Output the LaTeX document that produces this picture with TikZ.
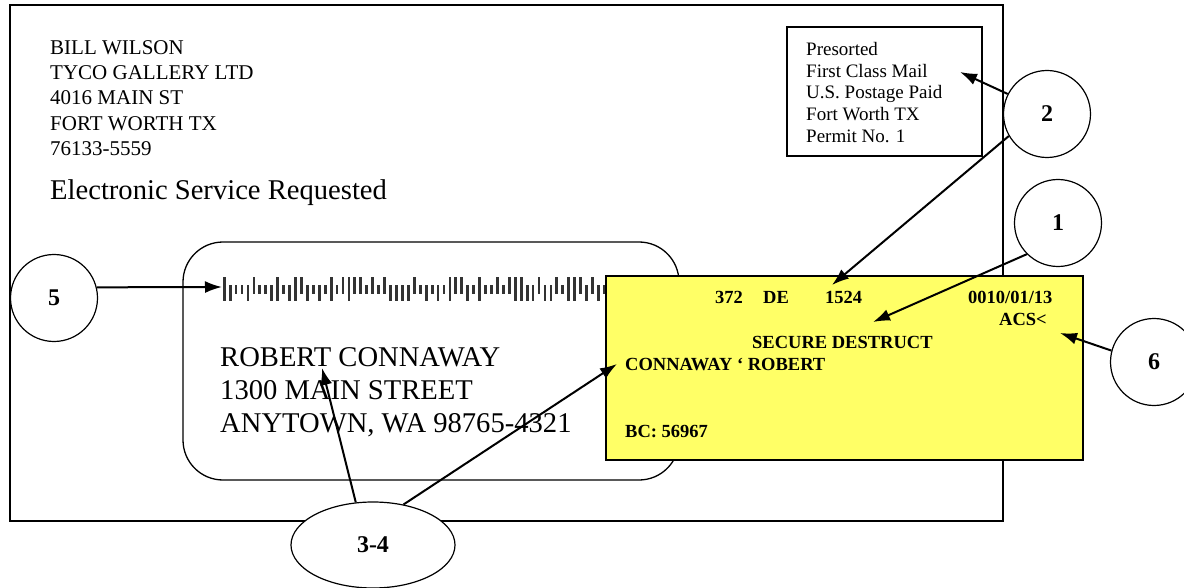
\documentclass[tikz,border=0pt]{standalone}
\usepackage{fontspec}
\setmainfont{Liberation Serif}
\usetikzlibrary{shapes.geometric, arrows.meta}
\definecolor{acsyellow}{HTML}{FFFF66}
\definecolor{barcinza}{HTML}{333333}

\begin{document}
\begin{tikzpicture}[x=1pt, y=-1pt, >={Latex[length=17pt, width=12pt]},
    callout/.style={draw, circle, fill=white, line width=1.2pt, minimum size=87pt, inner sep=0pt, font=\fontsize{24}{24}\selectfont\bfseries},
    seta/.style={->, line width=2pt},
    acs/.style={inner sep=0pt, anchor=base west, font=\fontsize{18.5}{18.5}\selectfont\bfseries}]
\clip (0,0) rectangle (1184,588);
% Envelope
\draw[line width=1.3pt] (10,5) rectangle (1003,521);
% Return address
\node[anchor=north west, inner sep=0pt, align=left, font=\fontsize{21}{25.3}\selectfont] (retaddr) at (50,40)
  {BILL WILSON\\TYCO GALLERY LTD\\4016 MAIN ST\\FORT WORTH TX\\76133-5559};
\node[anchor=base west, inner sep=0pt, font=\fontsize{28.6}{33}\selectfont] (esr) at (50,200) {Electronic Service Requested};
% Indicia
\draw[line width=1.3pt] (787,27) rectangle (982,156);
\node[anchor=north west, inner sep=0pt, align=left, font=\fontsize{19}{21.8}\selectfont] (indicia) at (806,42)
  {Presorted\\First Class Mail\\U.S. Postage Paid\\Fort Worth TX\\Permit No. 1};
% Address window
\draw[line width=1.3pt, rounded corners=40pt] (183,242) rectangle (679,480);
\foreach \c [count=\i from 0] in {3,2,0,0,2,1,0,0,2,3,0,2,3,1,2,0,2,0,3,0,1,3,
    1,1,0,1,0,1,2,2,2,2,1,0,2,0,2,0,3,1,1,2,0,3,
    0,0,1,0,1,3,3,2,2,1,2,2,1,0,3,3,1,2,1,2,0} {
  \pgfmathsetmacro\bartop{285-8*mod(\c,2)}
  \pgfmathsetmacro\barbot{294+7*floor(\c/2)}
  \fill[barcinza] ({222.8+5.94*\i},\bartop) rectangle ++(2.8,{\barbot-\bartop});
}
\node[anchor=north west, inner sep=0pt, align=left, font=\fontsize{28.6}{33}\selectfont] (recip) at (220,347)
  {ROBERT CONNAWAY\\1300 MAIN STREET\\ANYTOWN, WA 98765-4321};
% ACS label
\filldraw[fill=acsyellow, line width=1.5pt] (606,276) rectangle (1083,460);
\node[acs] (acsnum) at (715,304) {372};
\node[acs] (acsde) at (763,304) {DE};
\node[acs] (acsseq) at (825,304) {1524};
\node[acs] (acsdate) at (968,304) {0010/01/13};
\node[acs] (acsflag) at (999,326) {ACS<};
\node[acs] (acsdisp) at (752,348) {SECURE DESTRUCT};
\node[acs] (acsname) at (625,370) {CONNAWAY ‘ ROBERT};
\node[acs] (acsbc) at (625,437) {BC: 56967};
% Callouts
\node[callout] (c1) at (1058,223) {1};
\node[callout] (c2) at (1047,114) {2};
\node[callout, ellipse, minimum width=164pt, minimum height=86pt] (c34) at (373,545) {3-4};
\node[callout] (c5) at (54,298) {5};
\node[callout] (c6) at (1154,362) {6};
\coordinate (tipmail) at (960,72);
\coordinate (tipseq) at (832,285);
\coordinate (tipdisp) at (873,322);
\coordinate (tipflag) at (1060,333);
\coordinate (tipbar) at (222,287);
\coordinate (tiprecip) at (322,368);
\coordinate (tipname) at (617,364);
\draw[seta] (c2.153) -- (tipmail);
\draw[seta] (c2.210) -- (tipseq);
\draw[seta] (c1.225) -- (tipdisp);
\draw[seta] (c6.165) -- (tipflag);
\draw[seta] (c5.14) -- (tipbar);
\draw[seta] (c34.112) -- (tiprecip);
\draw[seta] (c34.53) -- (tipname);
\end{tikzpicture}
\end{document}
